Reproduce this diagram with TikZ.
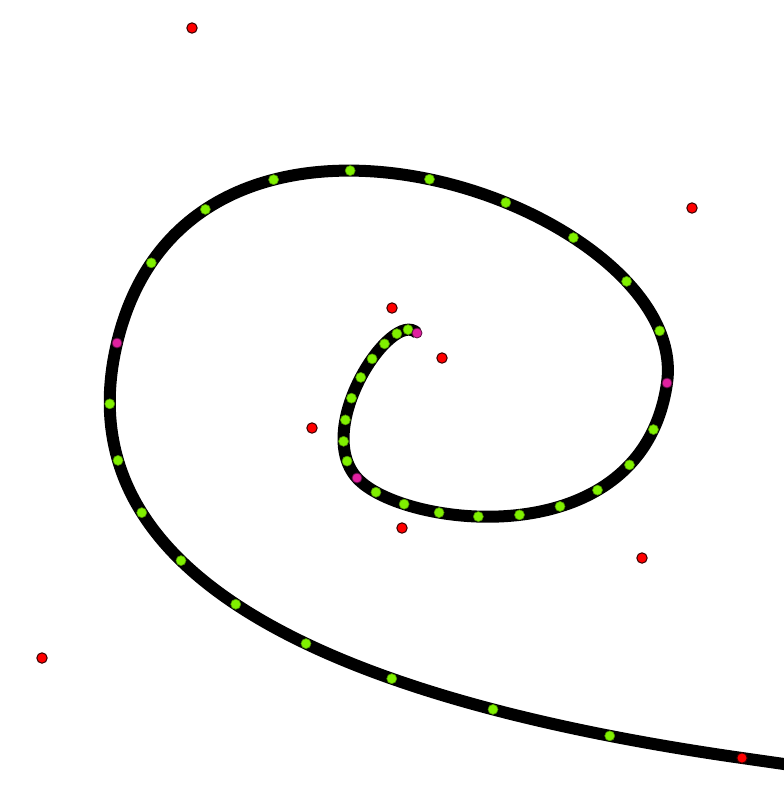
\documentclass[tikz,border=0pt]{standalone}
\usepackage{tikz}
\usetikzlibrary{calc}
\definecolor{ctrlred}{HTML}{FF0000}
\definecolor{knotpink}{HTML}{E020A0}
\definecolor{samplegreen}{HTML}{80F000}
\tikzset{
  spiral/.style={line width=12*0.25mm, draw=black},
  ctrlpt/.style={circle, fill=ctrlred, draw=black!80!red, line width=0.25mm,
    inner sep=0pt, minimum size=2.6mm},
  knotpt/.style={circle, fill=knotpink, draw=black!60!knotpink, line width=0.2mm,
    inner sep=0pt, minimum size=2.5mm},
  samplept/.style={circle, fill=samplegreen, draw=black!40!samplegreen, line width=0.15mm,
    inner sep=0pt, minimum size=2.5mm},
}

\begin{document}
\begin{tikzpicture}[x=0.25mm, y=-0.25mm]
\useasboundingbox (0,0) rectangle (784,785);
\clip (0,0) rectangle (784,785);

% control points
\coordinate (q0) at (442,358);
\coordinate (q1) at (392,308);
\coordinate (q2) at (312,428);
\coordinate (q3) at (402,528);
\coordinate (q4) at (642,558);
\coordinate (q5) at (692,208);
\coordinate (q6) at (192,28);
\coordinate (q7) at (42,658);
\coordinate (q8) at (742,758);
\coordinate (q9) at (842,772.3);

% joints (midpoints)
\coordinate (k0) at (417,333);
\coordinate (k1) at (357,478);
\coordinate (k2) at (667,383);
\coordinate (k3) at (117,343);

% last piece is quadratic: raise it to cubic
\coordinate (c1) at ($(k3)!2/3!(q7)$);
\coordinate (c2) at ($(q8)!2/3!(q7)$);

% the curve
\draw[spiral] (k0) .. controls (q1) and (q2) .. (k1)
  .. controls (q3) and (q4) .. (k2)
  .. controls (q5) and (q6) .. (k3)
  .. controls (c1) and (c2) .. (q8) -- (q9);

% samples along each piece
\foreach \t in {0.1,0.2,0.3,0.4,0.5,0.6,0.7,0.8,0.9} {
  \path (k0) .. controls (q1) and (q2) .. (k1) node[samplept, pos=\t] (sa\t) {};
  \path (k1) .. controls (q3) and (q4) .. (k2) node[samplept, pos=\t] (sb\t) {};
  \path (k2) .. controls (q5) and (q6) .. (k3) node[samplept, pos=\t] (sc\t) {};
  \path (k3) .. controls (c1) and (c2) .. (q8) node[samplept, pos=\t] (sd\t) {};
}

\foreach \k in {k0,k1,k2,k3}
  \node[knotpt] (n\k) at (\k) {};

\foreach \q in {q0,q1,q2,q3,q4,q5,q6,q7,q8}
  \node[ctrlpt] (n\q) at (\q) {};

\end{tikzpicture}
\end{document}
